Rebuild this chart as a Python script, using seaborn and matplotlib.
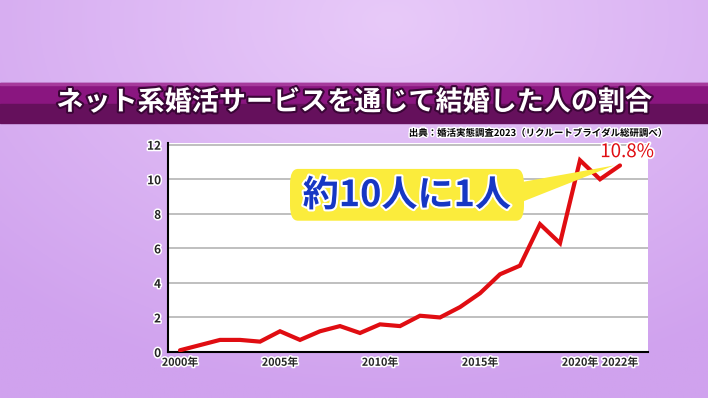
import numpy as np
import pandas as pd
import matplotlib
matplotlib.use("Agg")
import matplotlib.pyplot as plt
import matplotlib.patheffects as pe
from matplotlib.patches import FancyBboxPatch, Polygon, Rectangle
import seaborn as sns

years = list(range(2000, 2023))
share = [0.1, 0.4, 0.7, 0.7, 0.6, 1.2, 0.7, 1.2, 1.5, 1.1, 1.6, 1.5, 2.1, 2.0,
         2.6, 3.4, 4.5, 5.0, 7.4, 6.3, 11.1, 10.0, 10.8]
tick_years = [2000, 2005, 2010, 2015, 2020, 2022]
tick_labels = ["2000年", "2005年", "2010年", "2015年", "2020年", "2022年"]
y_ticks = [0, 2, 4, 6, 8, 10, 12]
title = "ネット系婚活サービスを通じて結婚した人の割合"
source = "出典：婚活実態調査2023（リクルートブライダル総研調べ）"
callout = "約10人に1人"
last_label = "10.8%"

sns.set_style("white")
plt.rcParams['font.family'] = ['Noto Sans CJK JP', 'DejaVu Sans']

W, H = 708, 398
fig = plt.figure(figsize=(W / 100, H / 100), dpi=100)

# background gradient
bg = fig.add_axes([0, 0, 1, 1], zorder=-10)
yy, xx = np.mgrid[0:1:200j, 0:1:360j]
d = np.sqrt(((xx - 0.55) * 1.2) ** 2 + ((yy - 0.05) * 1.0) ** 2)
t = np.clip(d / 0.95, 0, 1)
c1 = np.array([0xe8, 0xca, 0xf9]) / 255
c2 = np.array([0xd0, 0xa2, 0xee]) / 255
img = c1[None, None, :] * (1 - t[..., None]) + c2[None, None, :] * t[..., None]
bg.imshow(img, extent=[0, 1, 0, 1], origin="upper", aspect="auto")
bg.set_xlim(0, 1); bg.set_ylim(0, 1)
bg.axis("off")

# title band
band_top = 1 - 83 / H
band_mid = 1 - 104 / H
band_bot = 1 - 123 / H
bg.add_patch(Rectangle((0, band_mid), 1, band_top - band_mid, color="#8a1680", zorder=1))
bg.add_patch(Rectangle((0, band_bot), 1, band_mid - band_bot, color="#65105c", zorder=1))
bg.add_patch(Rectangle((0, band_top - 0.006), 1, 0.006, color="#a63a9c", zorder=2))
bg.text(0.501, (band_top + band_bot) / 2 + 0.002, title, color="white", fontsize=19.5,
        fontweight="bold", ha="center", va="center", zorder=3,
        path_effects=[pe.withStroke(linewidth=3, foreground="#3a0636")])
bg.text(0.944, 1 - 133 / H, source, color="black", fontsize=6.8, fontweight="bold",
        ha="right", va="center", zorder=3,
        path_effects=[pe.withStroke(linewidth=2, foreground="white")])

# chart
ax = fig.add_axes([168 / W, 1 - 352 / H, (648 - 168) / W, (352 - 143) / H])
df = pd.DataFrame({"year": years, "share": share})
sns.lineplot(data=df, x="year", y="share", ax=ax, color="#e00d12", linewidth=3.0,
             solid_capstyle="round", solid_joinstyle="miter", zorder=5)
ax.set_facecolor("white")
ax.set_xlim(1999.4, 2023.4)
ax.set_ylim(0, 12.1)
ax.set_yticks(y_ticks)
ax.set_xticks(tick_years)
ax.set_xticklabels(tick_labels)
ax.set_xlabel("")
ax.set_ylabel("")
for y in y_ticks[1:]:
    ax.axhline(y, color="#b4b4b4", linewidth=1.2, zorder=1)
for s in ["top", "right"]:
    ax.spines[s].set_visible(False)
for s in ["left", "bottom"]:
    ax.spines[s].set_color("black")
    ax.spines[s].set_linewidth(1.5)
ax.tick_params(axis="both", direction="in", length=5, width=1.2, color="black")
ax.tick_params(axis="x", pad=4, labelsize=7.8)
ax.tick_params(axis="y", pad=5, labelsize=8.5)
for lab in ax.get_xticklabels() + ax.get_yticklabels():
    lab.set_fontweight("bold")
    lab.set_path_effects([pe.withStroke(linewidth=2.2, foreground="white")])

# callout
bx0, bx1 = 2005.5, 2017.2
by0, by1 = 7.6, 10.6
ax.add_patch(Polygon([[bx1 - 0.3, 8.6], [bx1 - 0.3, 9.8], [years[-1] - 0.3, share[-1]]],
                     closed=True, facecolor="#fbec3c", edgecolor="none", zorder=6))
ax.add_patch(FancyBboxPatch((bx0, by0), bx1 - bx0, by1 - by0,
                            boxstyle="round,pad=0,rounding_size=0.4",
                            facecolor="#fbec3c", edgecolor="none", zorder=7,
                            mutation_aspect=2.2))
ax.text((bx0 + bx1) / 2, (by0 + by1) / 2 - 0.05, callout, color="#1637c4", fontsize=26,
        fontweight="bold", ha="center", va="center", zorder=8,
        path_effects=[pe.withStroke(linewidth=3, foreground="white")])
ax.text(years[-1] + 0.35, 11.6, last_label, color="#e00d12", fontsize=13.5,
        ha="center", va="center", zorder=8, clip_on=False,
        path_effects=[pe.withStroke(linewidth=2.5, foreground="white")])

fig.savefig("out.png", dpi=100)
